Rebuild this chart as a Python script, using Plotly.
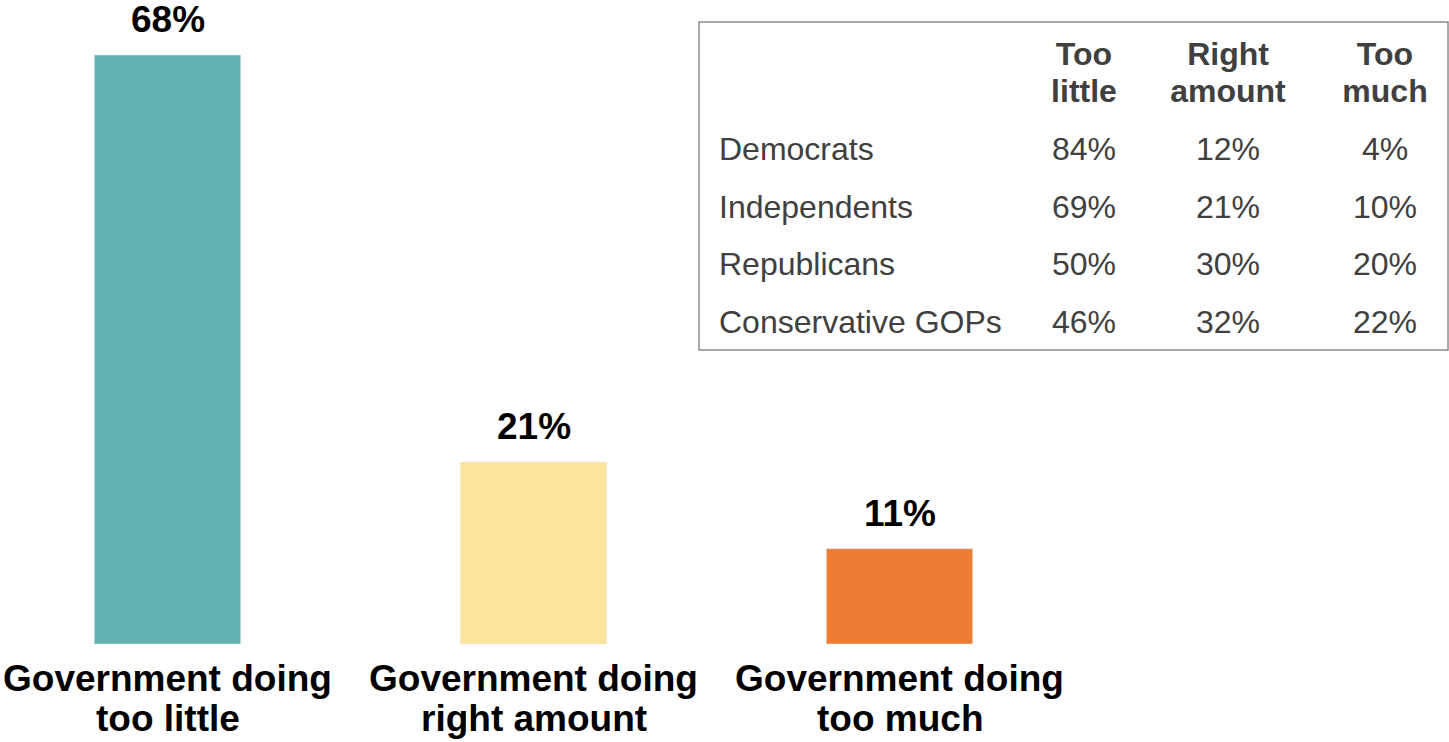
import plotly.graph_objects as go

# ---- data ----
categories = ["Government doing too little", "Government doing right amount", "Government doing too much"]
overall = [68, 21, 11]
bar_colors = ["#60B3B1", "#FDE49B", "#ED7D32"]

groups = ["Democrats", "Independents", "Republicans", "Conservative GOPs"]
headers = ["Too little", "Right amount", "Too much"]
too_little = [84, 69, 50, 46]
right_amount = [12, 21, 30, 32]
too_much = [4, 10, 20, 22]

# ---- layout constants (pixels) ----
W, H = 1449, 742
BOTTOM = 98
PLOT_H = H - BOTTOM
PX_PER_PCT = 8.662
FONT = "Arial, Liberation Sans, sans-serif"
GRAY = "#404040"

box_x0, box_x1, box_y0, box_y1 = 699, 1448, 22, 350
col_centers = [385, 529, 686]
label_x = 20
head_y = [35, 72]
row_y = [130, 188, 245, 303]
cat_line_y = [678, 718]

fig = go.Figure()
x_idx = list(range(len(categories)))
fig.add_trace(go.Bar(
    x=x_idx, y=overall, marker_color=bar_colors, width=0.40,
    hoverinfo="skip", showlegend=False, xaxis="x", yaxis="y"))

for i, v in enumerate(overall):
    fig.add_annotation(x=i, y=v, xref="x", yref="y", text=f"<b>{v}%</b>",
                       showarrow=False, yanchor="bottom", yshift=13,
                       font=dict(family=FONT, size=37, color="black"))

# category labels (two lines each)
for i, c in enumerate(categories):
    head, tail = c.split("doing ", 1)
    for line, ly in zip([head + "doing", tail], cat_line_y):
        fig.add_annotation(x=i, y=0, xref="x", yref="paper", text=f"<b>{line}</b>",
                           showarrow=False, yanchor="middle", yshift=PLOT_H - ly,
                           font=dict(family=FONT, size=37, color="black"))

# table as text on its own axes
cols = [too_little, right_amount, too_much]
fig.add_trace(go.Scatter(
    x=[label_x] * len(groups), y=row_y, text=groups, mode="text",
    textposition="middle right", textfont=dict(family=FONT, size=32, color=GRAY),
    xaxis="x2", yaxis="y2", hoverinfo="skip", showlegend=False))
for c, vals in enumerate(cols):
    fig.add_trace(go.Scatter(
        x=[col_centers[c]] * len(vals), y=row_y, text=[f"{v}%" for v in vals], mode="text",
        textposition="middle center", textfont=dict(family=FONT, size=32, color=GRAY),
        xaxis="x2", yaxis="y2", hoverinfo="skip", showlegend=False))
    parts = headers[c].split(" ", 1)
    fig.add_trace(go.Scatter(
        x=[col_centers[c]] * 2, y=head_y, text=[f"<b>{p}</b>" for p in parts], mode="text",
        textposition="middle center", textfont=dict(family=FONT, size=32, color=GRAY),
        xaxis="x2", yaxis="y2", hoverinfo="skip", showlegend=False))

fig.add_shape(type="rect", xref="x2 domain", yref="y2 domain", x0=0, x1=1, y0=0, y1=1,
              line=dict(color="#8C8C8C", width=1.5), fillcolor="rgba(0,0,0,0)")

bar_right = 167.5 + 366 * 2.5
fig.update_layout(
    width=W, height=H,
    margin=dict(l=0, r=0, t=0, b=BOTTOM),
    paper_bgcolor="white", plot_bgcolor="rgba(0,0,0,0)",
    xaxis=dict(domain=[0, bar_right / W], range=[-167.5 / 366, 2.5],
               showticklabels=False, showgrid=False, zeroline=False, showline=False, ticks=""),
    yaxis=dict(domain=[0, 1], range=[0, PLOT_H / PX_PER_PCT], visible=False),
    xaxis2=dict(domain=[box_x0 / W, box_x1 / W], range=[0, box_x1 - box_x0],
                visible=False, anchor="y2"),
    yaxis2=dict(domain=[(PLOT_H - box_y1) / PLOT_H, (PLOT_H - box_y0) / PLOT_H],
                range=[box_y1 - box_y0, 0], visible=False, anchor="x2"),
)

fig.write_html("out.html", config={"displayModeBar": False},
               post_script="document.body.style.margin='0px';document.body.style.overflow='hidden';")
